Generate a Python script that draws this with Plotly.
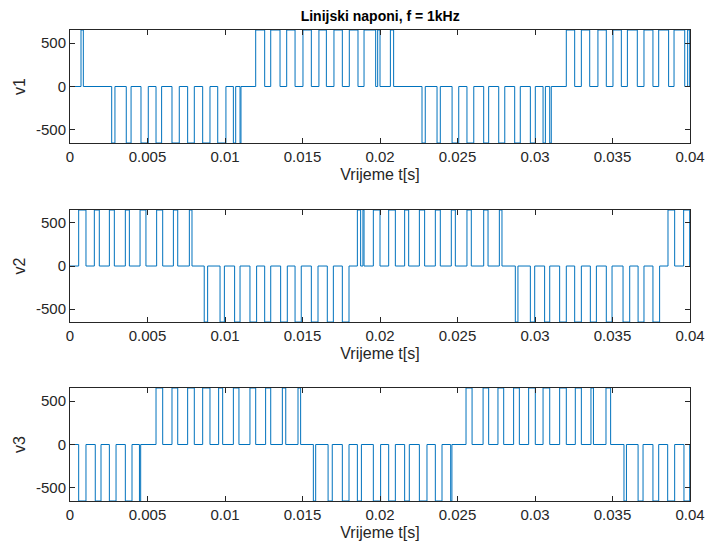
import plotly.graph_objects as go
from plotly.subplots import make_subplots

V = 650  # line voltage level

# pulse intervals (start, end) in seconds
v1_pos = [(0.00071, 0.00086), (0.01198, 0.01256), (0.01295, 0.01355), (0.01398, 0.01452),
          (0.01503, 0.01557), (0.01606, 0.01654), (0.01703, 0.01757), (0.01802, 0.01858),
          (0.01897, 0.01972), (0.01985, 0.02000), (0.02067, 0.02088), (0.03202, 0.03256),
          (0.03299, 0.03353), (0.03406, 0.03460), (0.03503, 0.03557), (0.03596, 0.03660),
          (0.03703, 0.03761), (0.03798, 0.03862), (0.03897, 0.03966), (0.03985, 0.03998)]
v1_neg = [(0.00269, 0.00290), (0.00363, 0.00394), (0.00458, 0.00505), (0.00555, 0.00591),
          (0.00658, 0.00705), (0.00759, 0.00802), (0.00856, 0.00903), (0.00953, 0.01006),
          (0.01054, 0.01069), (0.01097, 0.01103), (0.02271, 0.02292), (0.02368, 0.02389),
          (0.02465, 0.02508), (0.02561, 0.02605), (0.02669, 0.02701), (0.02766, 0.02805),
          (0.02869, 0.02905), (0.02970, 0.03002), (0.03052, 0.03067), (0.03095, 0.03105)]

v2_pos = [(0.00056, 0.00103), (0.00157, 0.00189), (0.00254, 0.00286), (0.00357, 0.00383),
          (0.00452, 0.00490), (0.00559, 0.00598), (0.00667, 0.00695), (0.00770, 0.00787),
          (0.01854, 0.01875), (0.01890, 0.01897), (0.01957, 0.02000), (0.02056, 0.02099),
          (0.02159, 0.02185), (0.02254, 0.02288), (0.02357, 0.02389), (0.02460, 0.02486),
          (0.02561, 0.02589), (0.02669, 0.02697), (0.02770, 0.02787), (0.03858, 0.03901),
          (0.03959, 0.03998)]
v2_neg = [(0.00866, 0.00888), (0.00968, 0.00996), (0.01062, 0.01097), (0.01161, 0.01204),
          (0.01256, 0.01295), (0.01359, 0.01402), (0.01452, 0.01492), (0.01557, 0.01600),
          (0.01660, 0.01699), (0.01757, 0.01800), (0.02873, 0.02890), (0.02970, 0.02998),
          (0.03062, 0.03095), (0.03159, 0.03202), (0.03256, 0.03299), (0.03357, 0.03396),
          (0.03460, 0.03497), (0.03568, 0.03611), (0.03665, 0.03703), (0.03761, 0.03804)]

v3_pos = [(0.00555, 0.00598), (0.00658, 0.00695), (0.00759, 0.00802), (0.00856, 0.00903),
          (0.00959, 0.00985), (0.01054, 0.01090), (0.01161, 0.01198), (0.01262, 0.01295),
          (0.01370, 0.01392), (0.01471, 0.01488), (0.02555, 0.02594), (0.02665, 0.02701),
          (0.02761, 0.02798), (0.02862, 0.02899), (0.02959, 0.03002), (0.03052, 0.03095),
          (0.03159, 0.03202), (0.03260, 0.03299), (0.03361, 0.03377), (0.03458, 0.03488)]
v3_neg = [(0.00056, 0.00103), (0.00163, 0.00200), (0.00254, 0.00297), (0.00357, 0.00400),
          (0.00448, 0.00456), (0.01570, 0.01585), (0.01665, 0.01692), (0.01757, 0.01800),
          (0.01854, 0.01880), (0.01957, 0.02004), (0.02056, 0.02099), (0.02159, 0.02189),
          (0.02254, 0.02303), (0.02357, 0.02400), (0.02456, 0.02464), (0.03574, 0.03590),
          (0.03665, 0.03697), (0.03761, 0.03798), (0.03856, 0.03901), (0.03961, 0.03998)]

t_end = 0.04
x_ticks = [0, 0.005, 0.01, 0.015, 0.02, 0.025, 0.03, 0.035, 0.04]
x_tick_text = ["0", "0.005", "0.01", "0.015", "0.02", "0.025", "0.03", "0.035", "0.04"]
y_ticks = [-500, 0, 500]
y_tick_text = ["-500", "0", "500"]
names = ["v1", "v2", "v3"]


def step_wave(pos, neg):
    pulses = sorted([(a, b, V) for a, b in pos] + [(a, b, -V) for a, b in neg])
    xs, ys = [0.0], [0.0]
    for a, b, s in pulses:
        xs += [a, a, b, b]
        ys += [0, s, s, 0]
    xs.append(t_end)
    ys.append(0)
    return xs, ys


waves = [step_wave(v1_pos, v1_neg), step_wave(v2_pos, v2_neg), step_wave(v3_pos, v3_neg)]

fig = make_subplots(rows=3, cols=1)
for i, (xs, ys) in enumerate(waves):
    fig.add_trace(go.Scatter(x=xs, y=ys, mode="lines",
                             line=dict(color="#0072BD", width=1), showlegend=False),
                  row=i + 1, col=1)

domains = [[0.7601, 1.0], [0.3800, 0.6178], [0.0, 0.2399]]
axcol = "#262626"
font = "Liberation Sans, Arial, sans-serif"
for i in range(3):
    xa = "xaxis" if i == 0 else f"xaxis{i+1}"
    ya = "yaxis" if i == 0 else f"yaxis{i+1}"
    fig.layout[xa].update(domain=[0, 1], range=[0, t_end], tickvals=x_ticks, ticktext=x_tick_text,
                          ticks="inside", ticklen=5, tickcolor=axcol, showline=True, linecolor=axcol,
                          linewidth=1, mirror="ticks", showgrid=False, zeroline=False, automargin=False,
                          tickfont=dict(size=15, color=axcol, family=font),
                          title=dict(text="Vrijeme t[s]", font=dict(size=16, color=axcol, family=font),
                                     standoff=4))
    fig.layout[ya].update(domain=domains[i], range=[-V, V], tickvals=y_ticks, ticktext=y_tick_text,
                          ticks="inside", ticklen=5, tickcolor=axcol, showline=True, linecolor=axcol,
                          linewidth=1, mirror="ticks", showgrid=False, zeroline=False, automargin=False,
                          tickfont=dict(size=15, color=axcol, family=font),
                          title=dict(text=names[i], font=dict(size=16, color=axcol, family=font),
                                     standoff=6))

fig.update_layout(width=708, height=552, margin=dict(l=70, r=18, t=30, b=51, autoexpand=False),
                  paper_bgcolor="white", plot_bgcolor="white",
                  title=dict(text="<b>Linijski naponi, f = 1kHz</b>", x=0.537, xanchor="center",
                             y=0.971, yanchor="middle", font=dict(size=14, color="#000000", family=font)))
fig.write_html("out.html", config={"displayModeBar": False},
               post_script="document.body.style.margin='0';document.body.style.overflow='hidden';")
